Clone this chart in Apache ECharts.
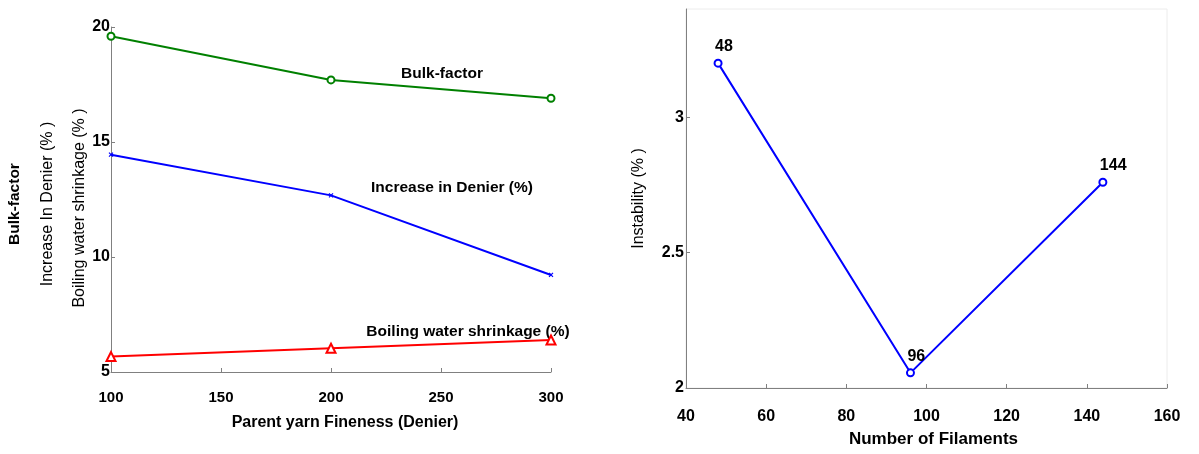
<!DOCTYPE html>
<html>
<head>
<meta charset="utf-8">
<script src="https://cdn.jsdelivr.net/npm/echarts@6/dist/echarts.min.js"></script>
<style>
html,body{margin:0;padding:0;background:#fff;}
#c{width:1199px;height:454px;}
</style>
</head>
<body>
<div id="c"></div>
<script>
// Left chart data
const fineness = [100, 200, 300];
const bulkFactor = [19.6, 17.7, 16.9];
const increaseDenier = [14.45, 12.68, 9.22];
const boilingShrinkage = [5.67, 6.03, 6.39];
const leftYTicks = [5, 10, 15, 20];
const leftXTicks = [100, 150, 200, 250, 300];

// Right chart data
const filaments = [48, 96, 144];
const instability = [3.20, 2.056, 2.76];
const rightYTicks = [2, 2.5, 3];
const rightXTicks = [40, 60, 80, 100, 120, 140, 160];

const FONT = '"Liberation Sans", Arial, sans-serif';
const pairs = (xs, ys) => xs.map((x, i) => [x, ys[i]]);

const axisCommon = {
  axisLine: { show: true, onZero: false, lineStyle: { color: '#808080', width: 1 } },
  axisTick: { show: true, inside: true, length: 4, lineStyle: { color: '#808080' } },
  splitLine: { show: false },
  axisLabel: { color: '#000', fontFamily: FONT, fontWeight: 'bold', fontSize: 16 }
};

const chart = echarts.init(document.getElementById('c'), null, { renderer: 'canvas' });
chart.setOption({
  animation: false,
  backgroundColor: '#fff',
  grid: [
    { left: 111, top: 27, width: 440, height: 345, show: false, containLabel: false, outerBoundsMode: 'none' },
    { left: 686, top: 9, width: 481, height: 379, show: true, borderColor: '#ececec', borderWidth: 1, backgroundColor: 'transparent', containLabel: false, outerBoundsMode: 'none' }
  ],
  xAxis: [
    Object.assign({}, axisCommon, {
      type: 'value', gridIndex: 0, min: 100, max: 300, interval: 50,
      axisLabel: Object.assign({}, axisCommon.axisLabel, { fontSize: 15, margin: 18, customValues: leftXTicks }),
      axisTick: Object.assign({}, axisCommon.axisTick, { customValues: leftXTicks }),
      name: 'Parent yarn Fineness (Denier)', nameLocation: 'middle', nameGap: 43,
      nameTextStyle: { color: '#000', fontFamily: FONT, fontWeight: 'bold', fontSize: 16, padding: [0, 0, 0, 28] }
    }),
    Object.assign({}, axisCommon, {
      type: 'value', gridIndex: 1, min: 40, max: 160, interval: 20,
      axisLabel: Object.assign({}, axisCommon.axisLabel, { margin: 21, customValues: rightXTicks }),
      axisTick: Object.assign({}, axisCommon.axisTick, { customValues: rightXTicks }),
      name: 'Number of Filaments', nameLocation: 'middle', nameGap: 43,
      nameTextStyle: { color: '#000', fontFamily: FONT, fontWeight: 'bold', fontSize: 17, padding: [0, 0, 0, 14] }
    })
  ],
  yAxis: [
    Object.assign({}, axisCommon, {
      type: 'value', gridIndex: 0, min: 5, max: 20, interval: 5,
      axisLabel: Object.assign({}, axisCommon.axisLabel, { margin: 1, customValues: leftYTicks }),
      axisTick: Object.assign({}, axisCommon.axisTick, { customValues: leftYTicks })
    }),
    Object.assign({}, axisCommon, {
      type: 'value', gridIndex: 1, min: 2, max: 3.4, interval: 0.5,
      axisLabel: Object.assign({}, axisCommon.axisLabel, { margin: 2, customValues: rightYTicks }),
      axisTick: Object.assign({}, axisCommon.axisTick, { customValues: rightYTicks }),
      name: 'Instability (% )', nameLocation: 'middle', nameGap: 39, nameRotate: 90,
      nameTextStyle: { color: '#000', fontFamily: FONT, fontWeight: 'normal', fontSize: 16 }
    })
  ],
  series: [
    {
      name: 'Bulk-factor', type: 'line', xAxisIndex: 0, yAxisIndex: 0,
      data: pairs(fineness, bulkFactor),
      symbol: 'emptyCircle', symbolSize: 7,
      lineStyle: { color: '#008000', width: 2 },
      itemStyle: { color: '#008000', borderWidth: 1.5 }
    },
    {
      name: 'Increase in Denier (%)', type: 'line', xAxisIndex: 0, yAxisIndex: 0,
      data: pairs(fineness, increaseDenier),
      symbol: 'path://M0,0L10,10M10,0L0,10', symbolSize: 4,
      lineStyle: { color: '#0000ff', width: 2 },
      itemStyle: { color: '#0000ff', borderColor: '#0000ff', borderWidth: 1.2 }
    },
    {
      name: 'Boiling water shrinkage (%)', type: 'line', xAxisIndex: 0, yAxisIndex: 0,
      data: pairs(fineness, boilingShrinkage),
      symbol: 'emptyTriangle', symbolSize: 9,
      lineStyle: { color: '#ff0000', width: 2 },
      itemStyle: { color: '#ff0000', borderWidth: 1.5 }
    },
    {
      name: 'Instability', type: 'line', xAxisIndex: 1, yAxisIndex: 1,
      data: pairs(filaments, instability),
      symbol: 'emptyCircle', symbolSize: 7,
      lineStyle: { color: '#0000ff', width: 2 },
      itemStyle: { color: '#0000ff', borderWidth: 1.5 },
      label: {
        show: true, position: 'top', distance: 4, align: 'left', offset: [-3, 0],
        color: '#000', fontFamily: FONT, fontWeight: 'bold', fontSize: 16,
        formatter: p => String(p.value[0])
      }
    }
  ],
  graphic: [
    { type: 'text', x: 15, y: 204, rotation: Math.PI / 2,
      style: { text: 'Bulk-factor', fill: '#000', font: 'bold 15.5px ' + FONT, textAlign: 'center', textVerticalAlign: 'middle' } },
    { type: 'text', x: 48, y: 204, rotation: Math.PI / 2,
      style: { text: 'Increase In Denier (% )', fill: '#000', font: '16px ' + FONT, textAlign: 'center', textVerticalAlign: 'middle' } },
    { type: 'text', x: 80, y: 208, rotation: Math.PI / 2,
      style: { text: 'Boiling water shrinkage (% )', fill: '#000', font: '16px ' + FONT, textAlign: 'center', textVerticalAlign: 'middle' } },
    { type: 'text', x: 442, y: 74,
      style: { text: 'Bulk-factor', fill: '#000', font: 'bold 15.5px ' + FONT, textAlign: 'center', textVerticalAlign: 'middle' } },
    { type: 'text', x: 452, y: 188,
      style: { text: 'Increase in Denier (%)', fill: '#000', font: 'bold 15.5px ' + FONT, textAlign: 'center', textVerticalAlign: 'middle' } },
    { type: 'text', x: 468, y: 332,
      style: { text: 'Boiling water shrinkage (%)', fill: '#000', font: 'bold 15.5px ' + FONT, textAlign: 'center', textVerticalAlign: 'middle' } }
  ]
});
</script>
</body>
</html>
